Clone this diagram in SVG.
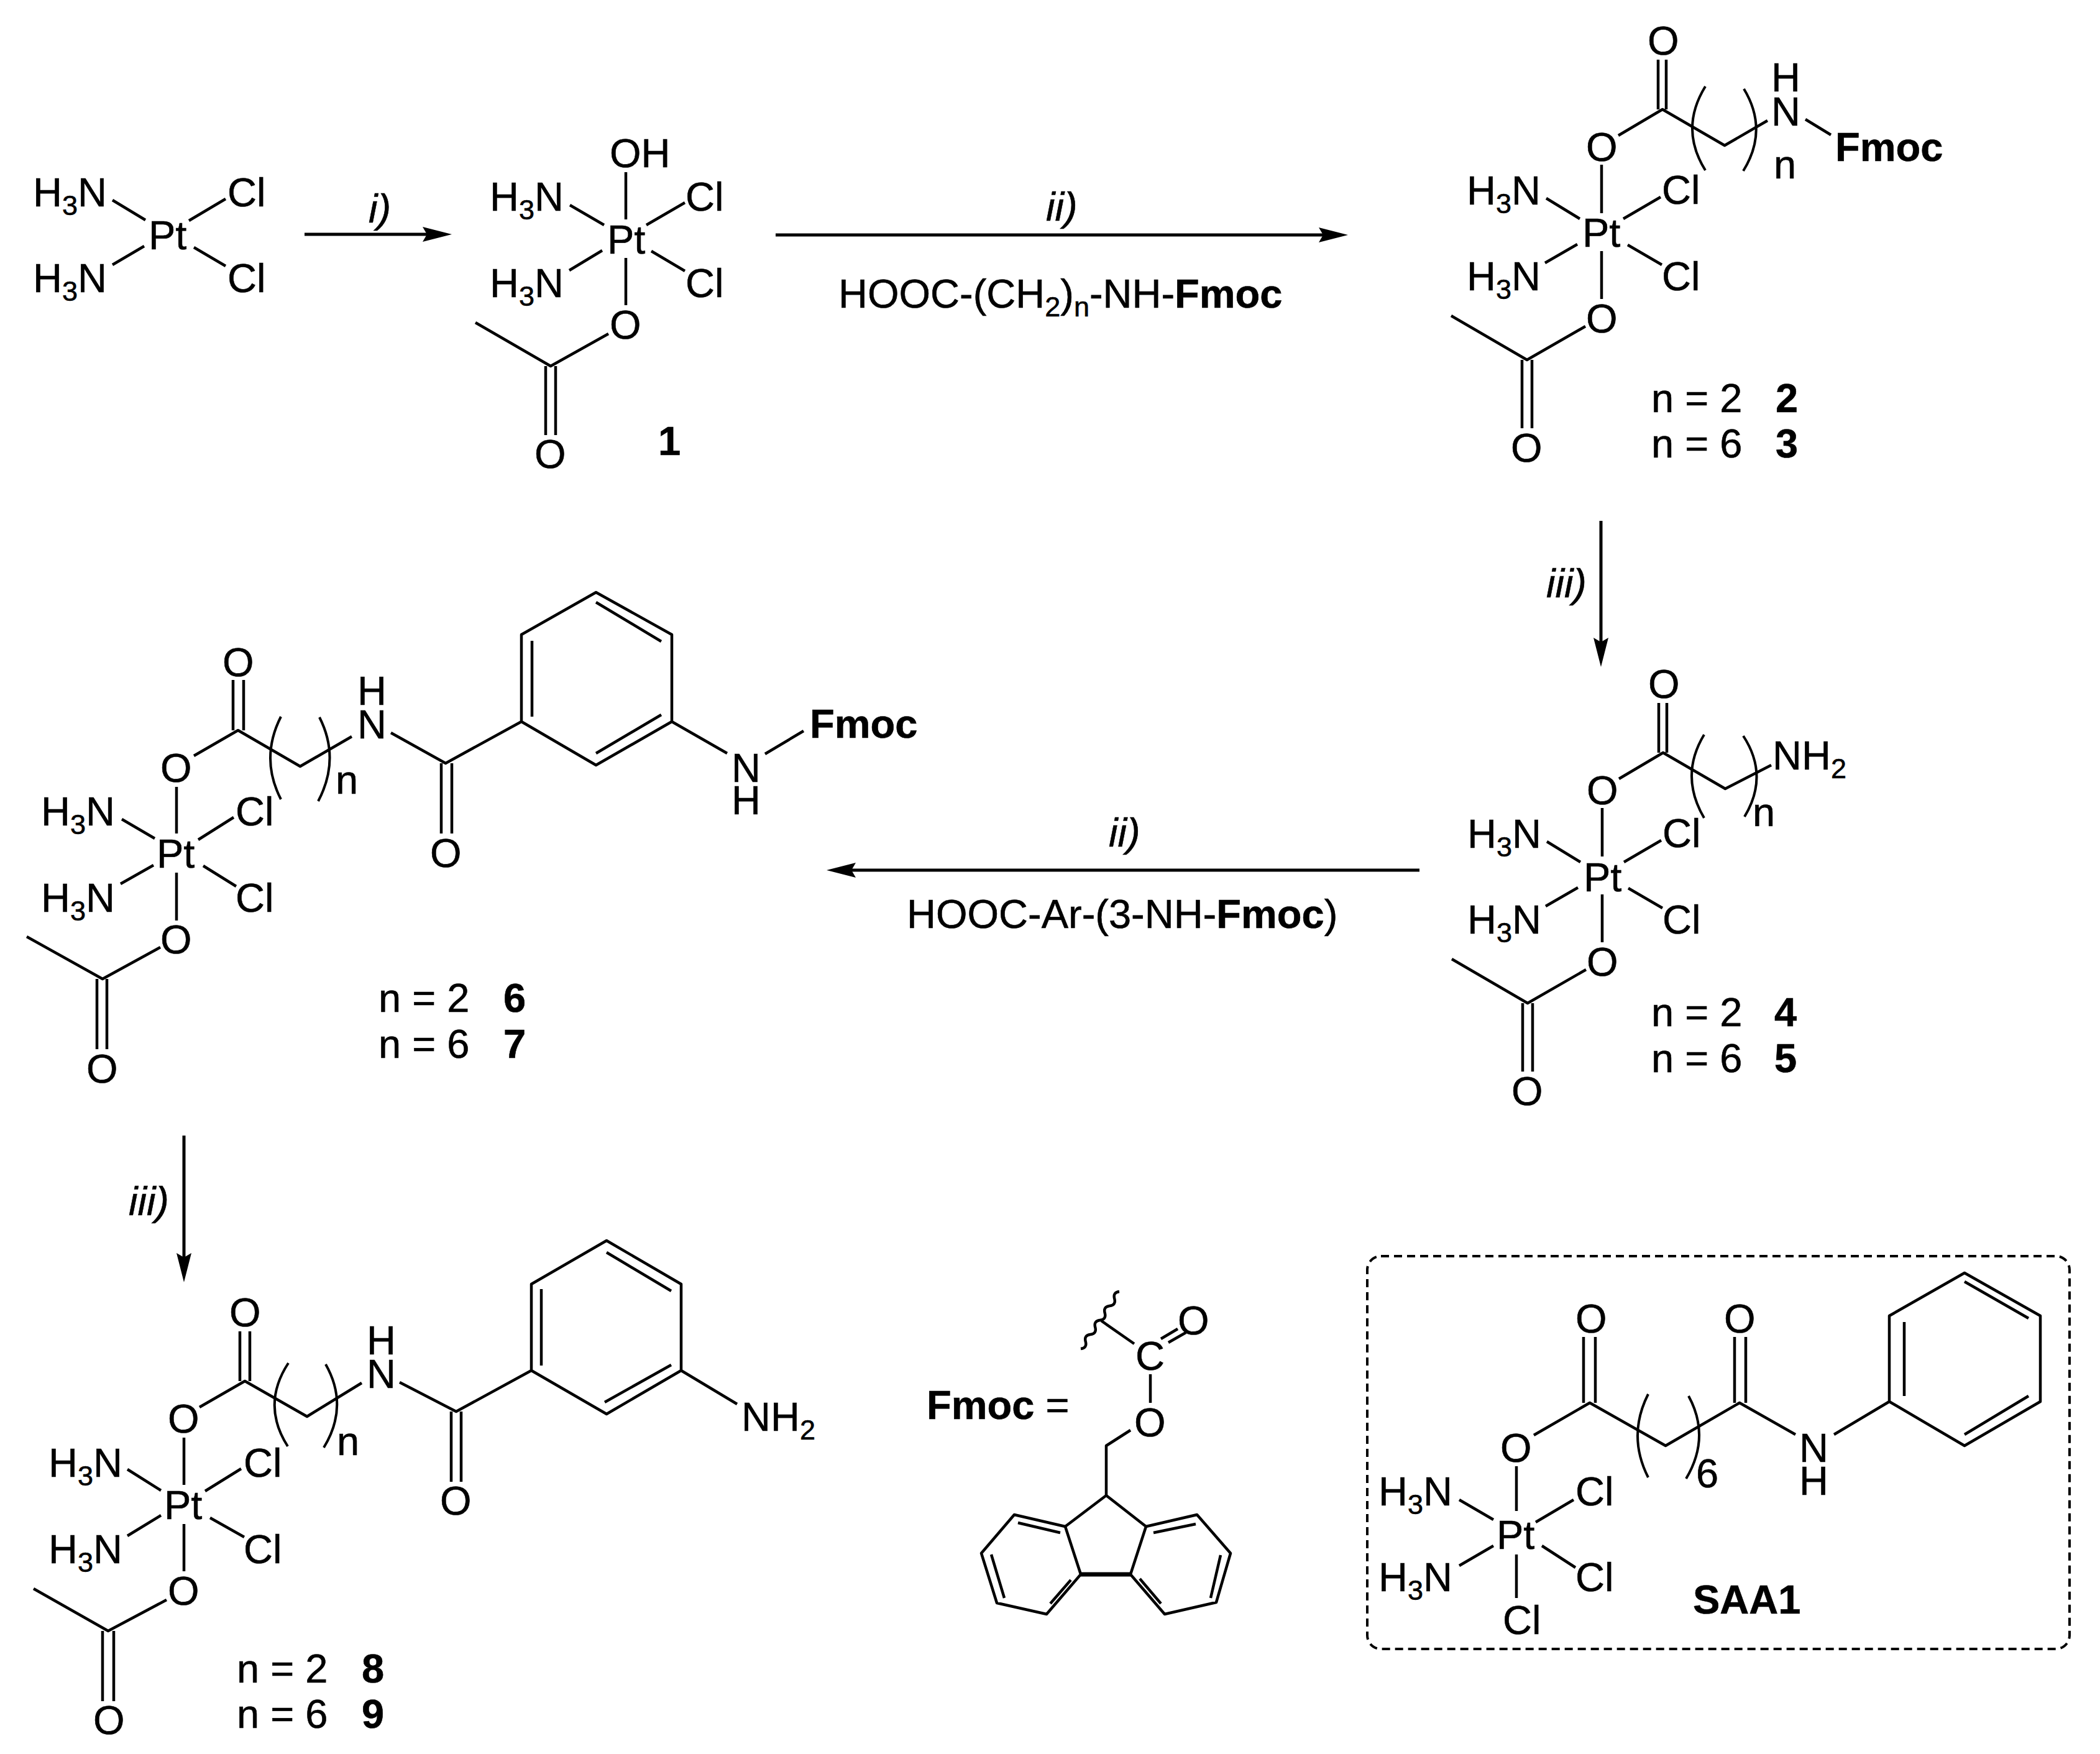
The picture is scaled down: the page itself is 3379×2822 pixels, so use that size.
<svg xmlns="http://www.w3.org/2000/svg" width="3379" height="2822" viewBox="0 0 3379 2822">
<style>
text{font-family:"Liberation Sans",Arial,sans-serif;font-size:65px;fill:#000;stroke:#000;stroke-width:.6}
.h{font-weight:bold}
.i{font-style:italic}
.s{font-size:45px}
.bd{fill:none;stroke:#000;stroke-width:4.5;stroke-linejoin:round}
.p{fill:none;stroke:#000;stroke-width:4}
.ar{fill:none;stroke:#000;stroke-width:5}
</style>
<defs>
<marker id="ah" markerUnits="userSpaceOnUse" markerWidth="48" markerHeight="28" viewBox="0 0 48 28" refX="8" refY="14" orient="auto">
<path d="M0 2L47 14L0 26L7 14Z" fill="#000"/>
</marker>
</defs>
<rect width="3379" height="2822" fill="#fff"/>

<g id="connectors">
<path class="ar" d="M490 377H688" marker-end="url(#ah)"/>
<path class="ar" d="M1248 378H2130" marker-end="url(#ah)"/>
<path class="ar" d="M2576 838V1034" marker-end="url(#ah)"/>
<path class="ar" d="M2284 1400H1369" marker-end="url(#ah)"/>
<path class="ar" d="M296 1827V2024" marker-end="url(#ah)"/>
</g>

<g id="reagents">
<text class="i" x="593" y="358">i)</text>
<text class="i" x="1683" y="355">ii)</text>
<text x="1349" y="495">HOOC-(CH<tspan class="s" dy="14">2</tspan><tspan dy="-14">)</tspan><tspan class="s" dy="14">n</tspan><tspan dy="-14">-NH-</tspan><tspan class="h">Fmoc</tspan></text>
<text class="i" x="2488" y="961">iii)</text>
<text class="i" x="1784" y="1362">ii)</text>
<text x="1459" y="1493">HOOC-Ar-(3-NH-<tspan class="h">Fmoc</tspan>)</text>
<text class="i" x="207" y="1955">iii)</text>
</g>

<g id="cisplatin">
<path class="bd" d="M181 322L234 354M181 426L232 396M304 355L363 320M312 398L363 428"/>
<text x="53" y="332">H<tspan class="s" dy="14">3</tspan><tspan dy="-14">N</tspan></text>
<text x="53" y="470">H<tspan class="s" dy="14">3</tspan><tspan dy="-14">N</tspan></text>
<text x="239" y="401">Pt</text>
<text x="366" y="332">Cl</text>
<text x="366" y="470">Cl</text>
</g>

<g id="compound-1">
<path class="bd" d="M1007 277V353M1007 415V491M917 330L972 362M916 435L969 403M1040 362L1102 326M1048 404L1102 436M979 537L886 589L765 519M878 589V700M894 589V700"/>
<text x="788" y="339">H<tspan class="s" dy="14">3</tspan><tspan dy="-14">N</tspan></text>
<text x="788" y="478">H<tspan class="s" dy="14">3</tspan><tspan dy="-14">N</tspan></text>
<text x="977" y="408">Pt</text>
<text x="1103" y="339">Cl</text>
<text x="1103" y="478">Cl</text>
<text x="981" y="269">OH</text>
<text x="981" y="545">O</text>
<text x="860" y="753">O</text>
<text class="h" x="1059" y="732">1</text>
</g>

<g id="compound-2-3">
<path class="bd" d="M2668 96V176M2681 96V176M2604 218L2675 176L2775 234L2844 194M2905 192L2946 217M2577 265V343M2577 404V481M2488 319L2542 352M2486 423L2538 393M2612 352L2672 317M2619 394L2674 426M2551 525L2457 579L2335 508M2449 579V689M2465 579V689"/>
<path class="p" d="M2744 139Q2702 207 2744 274M2806 143Q2846 209 2805 275"/>
<text x="2651" y="88">O</text>
<text x="2850" y="202">N</text>
<text x="2850" y="147">H</text>
<text class="h" x="2953" y="259">Fmoc</text>
<text x="2854" y="287">n</text>
<text x="2552" y="259">O</text>
<text x="2360" y="329">H<tspan class="s" dy="14">3</tspan><tspan dy="-14">N</tspan></text>
<text x="2360" y="467">H<tspan class="s" dy="14">3</tspan><tspan dy="-14">N</tspan></text>
<text x="2546" y="397">Pt</text>
<text x="2674" y="328">Cl</text>
<text x="2674" y="467">Cl</text>
<text x="2552" y="535">O</text>
<text x="2431" y="743">O</text>
<text x="2657" y="663">n = 2</text>
<text x="2657" y="736">n = 6</text>
<text class="h" x="2857" y="663">2</text>
<text class="h" x="2857" y="736">3</text>
</g>

<g id="compound-4-5">
<path class="bd" d="M2669 1131V1211M2682 1131V1211M2605 1253L2676 1211L2776 1269L2850 1231M2578 1300V1378M2578 1439V1516M2489 1354L2543 1387M2487 1458L2539 1428M2613 1387L2673 1352M2620 1429L2675 1461M2552 1560L2458 1614L2336 1543M2450 1614V1724M2466 1614V1724"/>
<path class="p" d="M2742 1182Q2702 1248 2742 1316M2805 1184Q2847 1248 2807 1314"/>
<text x="2652" y="1123">O</text>
<text x="2852" y="1238">NH<tspan class="s" dy="14">2</tspan></text>
<text x="2820" y="1329">n</text>
<text x="2553" y="1294">O</text>
<text x="2361" y="1364">H<tspan class="s" dy="14">3</tspan><tspan dy="-14">N</tspan></text>
<text x="2361" y="1502">H<tspan class="s" dy="14">3</tspan><tspan dy="-14">N</tspan></text>
<text x="2548" y="1434">Pt</text>
<text x="2675" y="1363">Cl</text>
<text x="2675" y="1502">Cl</text>
<text x="2553" y="1570">O</text>
<text x="2432" y="1778">O</text>
<text x="2657" y="1651">n = 2</text>
<text x="2657" y="1725">n = 6</text>
<text class="h" x="2855" y="1651">4</text>
<text class="h" x="2855" y="1725">5</text>
</g>

<g id="compound-6-7">
<path class="bd" d="M375 1094V1175M392 1094V1175M312 1216L383 1175L483 1233L566 1185M629 1179L717 1228L839 1161V1021L959 953L1081 1021V1161L959 1231L839 1161M710 1228V1341M727 1228V1341M856 1031V1153M959 969L1064 1032M959 1212L1064 1150M1081 1161L1170 1212M1231 1213L1293 1176M284 1266V1341M284 1404V1481M196 1318L249 1349M194 1422L247 1392M319 1351L376 1315M327 1393L380 1426M258 1524L165 1575L43 1507M156 1575V1688M172 1575V1688"/>
<path class="p" d="M452 1153Q418 1220 452 1286M514 1154Q548 1221 512 1289"/>
<text x="358" y="1088">O</text>
<text x="575" y="1188">N</text>
<text x="575" y="1134">H</text>
<text x="540" y="1277">n</text>
<text x="692" y="1395">O</text>
<text x="1177" y="1258">N</text>
<text x="1177" y="1310">H</text>
<text class="h" x="1303" y="1187">Fmoc</text>
<text x="258" y="1258">O</text>
<text x="66" y="1328">H<tspan class="s" dy="14">3</tspan><tspan dy="-14">N</tspan></text>
<text x="66" y="1467">H<tspan class="s" dy="14">3</tspan><tspan dy="-14">N</tspan></text>
<text x="252" y="1396">Pt</text>
<text x="379" y="1328">Cl</text>
<text x="379" y="1467">Cl</text>
<text x="258" y="1534">O</text>
<text x="139" y="1742">O</text>
<text x="609" y="1628">n = 2</text>
<text x="609" y="1702">n = 6</text>
<text class="h" x="810" y="1628">6</text>
<text class="h" x="810" y="1702">7</text>
</g>

<g id="compound-8-9">
<path class="bd" d="M386 2142V2222M402 2142V2222M321 2264L394 2222L494 2279L582 2225M643 2224L734 2271L855 2205V2066L976 1996L1096 2066V2205L976 2275L855 2205M726 2271V2384M742 2271V2384M871 2074V2197M976 2015L1080 2077M973 2256L1080 2196M1096 2205L1186 2259M296 2313V2389M296 2452V2528M205 2364L259 2398M205 2471L259 2438M330 2399L388 2363M338 2442L393 2473M268 2574L174 2624L54 2556M165 2624V2737M183 2624V2737"/>
<path class="p" d="M464 2193Q420 2260 463 2327M524 2195Q562 2262 521 2329"/>
<text x="369" y="2134">O</text>
<text x="590" y="2233">N</text>
<text x="590" y="2179">H</text>
<text x="542" y="2341">n</text>
<text x="708" y="2437">O</text>
<text x="1193" y="2302">NH<tspan class="s" dy="14">2</tspan></text>
<text x="270" y="2305">O</text>
<text x="78" y="2376">H<tspan class="s" dy="14">3</tspan><tspan dy="-14">N</tspan></text>
<text x="78" y="2515">H<tspan class="s" dy="14">3</tspan><tspan dy="-14">N</tspan></text>
<text x="264" y="2444">Pt</text>
<text x="392" y="2376">Cl</text>
<text x="392" y="2515">Cl</text>
<text x="270" y="2582">O</text>
<text x="150" y="2790">O</text>
<text x="381" y="2707">n = 2</text>
<text x="381" y="2780">n = 6</text>
<text class="h" x="582" y="2707">8</text>
<text class="h" x="582" y="2780">9</text>
</g>

<g id="fmoc-legend">
<text x="1491" y="2283"><tspan class="h">Fmoc</tspan> =</text>
<path class="bd" d="M1739 2170q10.500 -1.250 7.750 -11.500t7.750 -11.500t7.750 -11.500t7.750 -11.500t7.750 -11.500t7.750 -11.500t7.750 -11.500t7.750 -11.500"/>
<path class="bd" d="M1772 2125L1825 2162M1868 2154L1895 2138M1880 2160L1908 2144M1851 2211V2257M1819 2301L1780 2326V2406L1714 2456M1780 2406L1844 2456M1714 2456L1739 2533M1844 2456L1819 2533M1714 2456L1632 2437L1579 2499L1604 2579L1684 2597L1739 2533M1638 2450L1706 2466M1595 2501L1616 2571M1690 2580L1723 2542M1844 2456L1926 2437L1980 2499L1957 2578L1874 2597L1819 2533M1856 2466L1924 2452M1964 2502L1948 2571M1868 2580L1834 2540"/>
<path d="M1739 2533H1819" fill="none" stroke="#000" stroke-width="7"/>
<text x="1827" y="2204">C</text>
<text x="1895" y="2147">O</text>
<text x="1825" y="2311">O</text>
</g>

<g id="saa1">
<rect x="2200" y="2021" width="1130" height="632" rx="22" ry="22" fill="none" stroke="#000" stroke-width="4" stroke-dasharray="13 8"/>
<path class="bd" d="M2548 2151V2257M2567 2151V2257M2468 2309L2558 2257L2680 2326L2799 2257L2889 2308M2791 2151V2257M2809 2151V2257M2951 2308L3040 2255V2117L3161 2048L3283 2117V2255L3161 2326L3040 2255M3064 2127V2246M3161 2062L3264 2121M3161 2308L3264 2246M2440 2359V2431M2440 2501V2571M2348 2413L2403 2445M2348 2519L2403 2487M2471 2449L2532 2413M2481 2487L2535 2522"/>
<path class="p" d="M2652 2243Q2618 2310 2652 2377M2717 2246Q2753 2312 2713 2379"/>
<text x="2535" y="2144">O</text>
<text x="2774" y="2144">O</text>
<text x="2414" y="2352">O</text>
<text x="2895" y="2352">N</text>
<text x="2895" y="2405">H</text>
<text x="2729" y="2393">6</text>
<text x="2408" y="2492">Pt</text>
<text x="2418" y="2629">Cl</text>
<text x="2218" y="2422">H<tspan class="s" dy="14">3</tspan><tspan dy="-14">N</tspan></text>
<text x="2218" y="2560">H<tspan class="s" dy="14">3</tspan><tspan dy="-14">N</tspan></text>
<text x="2535" y="2422">Cl</text>
<text x="2535" y="2560">Cl</text>
<text class="h" x="2724" y="2596">SAA1</text>
</g>
</svg>
